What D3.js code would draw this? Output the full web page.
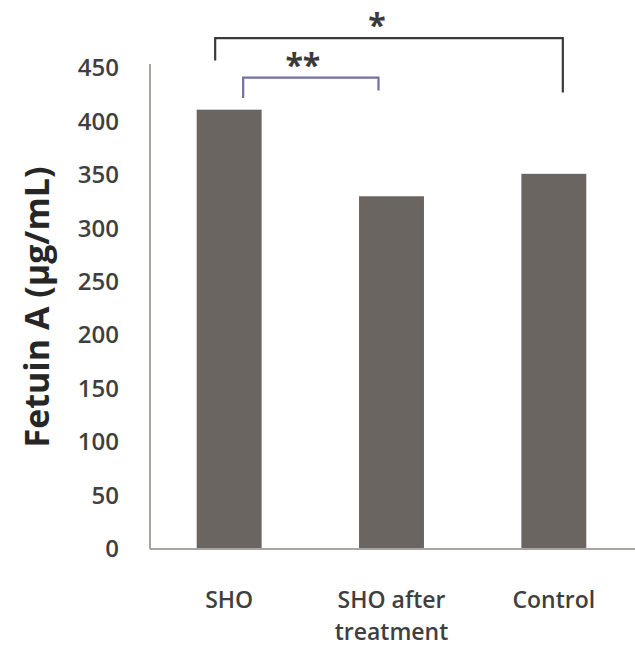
<!DOCTYPE html>
<html><head><meta charset="utf-8">
<script src="https://cdn.jsdelivr.net/npm/d3@7/dist/d3.min.js"></script>
<style>body{margin:0;background:#fff}svg{display:block}</style>
</head><body>
<script>
const categories = ["SHO", "SHO after treatment", "Control"];
const categoryLines = [["SHO"], ["SHO after", "treatment"], ["Control"]];
const values = [411, 330, 351];
const yTicks = [0, 50, 100, 150, 200, 250, 300, 350, 400, 450];
const yTitle = "Fetuin A (µg/mL)";
const sigPairs = [
  {from: "SHO", to: "Control", label: "*", level: 478, leftDrop: 457, rightDrop: 427},
  {from: "SHO", to: "SHO after treatment", label: "**", level: 441, leftDrop: 422, rightDrop: 429}
];

const W = 635, H = 646;
const svg = d3.select("body").append("svg").attr("width", W).attr("height", H);
const font = "'Open Sans', sans-serif";
const textColor = "#3f3f3f";

const x = d3.scaleBand().domain(categories).range([148, 635]).paddingInner(0.6).paddingOuter(0.3);
const y = d3.scaleLinear().domain([0, 450]).range([549, 68]);

// bars
svg.selectAll("rect.bar").data(values).join("rect")
  .attr("class", "bar")
  .attr("x", (d, i) => x(categories[i]))
  .attr("width", x.bandwidth())
  .attr("y", d => y(d))
  .attr("height", d => y(0) - y(d))
  .attr("fill", "#6b6562");

// y axis
const yAxis = d3.axisLeft(y).tickValues(yTicks).tickSize(0).tickPadding(31);
const gy = svg.append("g").attr("transform", "translate(150,0)").call(yAxis);
gy.select(".domain").attr("stroke", "#aaa3a1").attr("stroke-width", 2).attr("d", `M0,${y(0)}V64`);
gy.selectAll("text").attr("font-family", font).attr("font-size", 24).attr("font-weight", 600).attr("fill", textColor);

// x axis
const xAxis = d3.axisBottom(x).tickSize(0).tickFormat("");
const gx = svg.append("g").attr("transform", `translate(0,${y(0)})`).call(xAxis);
gx.select(".domain").attr("stroke", "#aaa3a1").attr("stroke-width", 2).attr("d", `M150,0H635`);
gx.selectAll(".tick").each(function(d, i) {
  const t = d3.select(this).append("text")
    .attr("font-family", font).attr("font-size", 23).attr("font-weight", 600)
    .attr("fill", textColor).attr("text-anchor", "middle");
  categoryLines[i].forEach((ln, j) => {
    t.append("tspan").attr("x", 0).attr("y", 59 + j * 32).text(ln);
  });
});

// y title
svg.append("text")
  .attr("transform", `translate(49,307) rotate(-90)`)
  .attr("text-anchor", "middle")
  .attr("font-family", font).attr("font-size", 34).attr("font-weight", 700)
  .attr("fill", "#262626")
  .text(yTitle);

// significance brackets
const colors = ["#3a3a3a", "#7470a0"];
const offsets = [{l: -14, r: 9}, {l: 14, r: -13}];
const starShift = [-12, -8];
sigPairs.forEach((p, i) => {
  const x1 = x(p.from) + x.bandwidth() / 2 + offsets[i].l;
  const x2 = x(p.to) + x.bandwidth() / 2 + offsets[i].r;
  const yl = y(p.level);
  svg.append("path")
    .attr("d", `M${x1},${y(p.leftDrop)}V${yl}H${x2}V${y(p.rightDrop)}`)
    .attr("fill", "none").attr("stroke", colors[i]).attr("stroke-width", 2.2);
  svg.append("text")
    .attr("x", (x1 + x2) / 2 + starShift[i]).attr("y", yl - 1)
    .attr("text-anchor", "middle")
    .attr("font-family", font).attr("font-size", 32).attr("font-weight", 700)
    .attr("fill", "#3a3a3a")
    .text(p.label);
});
</script>
</body></html>
